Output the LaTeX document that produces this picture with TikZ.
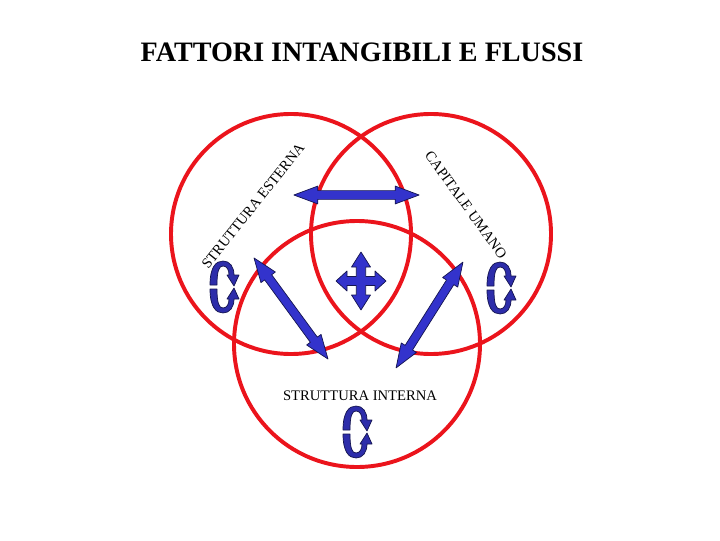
\documentclass[tikz,border=0pt]{standalone}
\usepackage{fontspec}
\setmainfont{Liberation Serif}
\usetikzlibrary{shapes.arrows}
\definecolor{ringred}{RGB}{235,20,28}
\definecolor{flowblue}{RGB}{51,51,204}
\definecolor{loopblue}{RGB}{45,45,170}
\definecolor{flowline}{RGB}{20,20,80}
\newcommand{\halfloop}{(-14,2) .. controls (-14,20) and (-8,26) .. (-1,26) .. controls (6,26) and (10,20) .. (10,12)
    -- (15,12) -- (10,1) -- (3,12) -- (5,12) .. controls (5,17) and (3,21) .. (-1,21)
    .. controls (-5,21) and (-7,16) .. (-7,2) -- cycle}
\tikzset{pics/loopicon/.style={code={
  \draw[loopfill] \halfloop;
  \draw[loopfill,yscale=-1] \halfloop;
}}}
\begin{document}
\begin{tikzpicture}[x=0.025cm,y=0.025cm,line cap=round,line join=round,
  ring/.style={draw=ringred,line width=2.8pt},
  flowfill/.style={draw=flowline,fill=flowblue,line width=0.5pt},
  loopfill/.style={draw=flowline,fill=loopblue,line width=0.5pt},
  flow/.style={double arrow,draw=flowline,fill=flowblue,line width=0.5pt,inner xsep=0pt,inner ysep=0.1cm,
    minimum width=0.43cm,double arrow head extend=0.115cm,double arrow tip angle=41,minimum height=3.13cm},
  lbl/.style={font=\fontsize{10.4}{12}\selectfont,inner sep=0pt}]
\useasboundingbox (0,0) rectangle (720,540);
\node[font=\bfseries\fontsize{20}{24}\selectfont] (title) at (362,488) {FATTORI INTANGIBILI E FLUSSI};
\draw[ring] (291,306) circle (120);
\draw[ring] (431,306) circle (120);
\draw[ring] (357,196) circle (123);
\node[lbl,rotate=51.5] (esterna) at (253,334) {STRUTTURA ESTERNA};
\node[lbl,rotate=-54] (umano) at (466,335) {CAPITALE UMANO};
\node[lbl] (interna) at (360,144) {STRUTTURA INTERNA};
\node[flow] (top) at (356.5,345) {};
\node[flow,rotate=-53.8] (left) at (291,231.5) {};
\node[flow,rotate=57.7] (right) at (429.5,225) {};
\draw[flowfill,shift={(361,259)}] (0,29) -- (9.5,14) -- (4.7,14) -- (4.7,4.5) -- (14,4.5) -- (14,10) -- (25,0)
  -- (14,-10) -- (14,-4.5) -- (4.7,-4.5) -- (4.7,-14) -- (9.5,-14) -- (0,-29) -- (-9.5,-14) -- (-4.7,-14)
  -- (-4.7,-4.5) -- (-14,-4.5) -- (-14,-10) -- (-25,0) -- (-14,10) -- (-14,4.5) -- (-4.7,4.5) -- (-4.7,14)
  -- (-9.5,14) -- cycle;
\pic at (224,253) {loopicon};
\pic at (501,252) {loopicon};
\pic at (357,108) {loopicon};
\end{tikzpicture}
\end{document}
